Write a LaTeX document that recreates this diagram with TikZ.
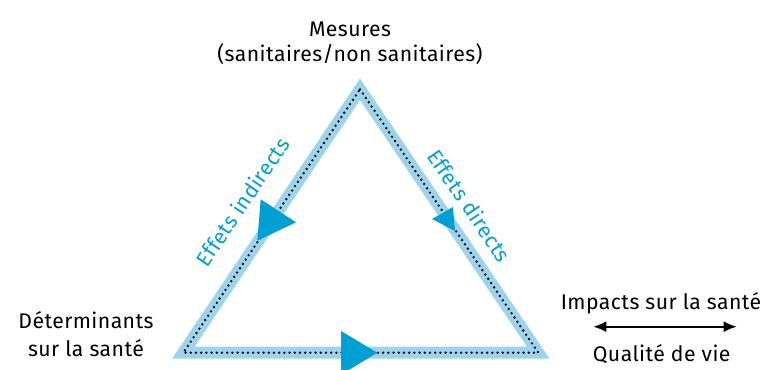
\documentclass[tikz,border=0pt]{standalone}
\usepackage{fontspec}
\setmainfont{Fira Sans}[LetterSpace=2]
\usetikzlibrary{arrows.meta}
\definecolor{band}{HTML}{9DD4EC}
\definecolor{arrowblue}{HTML}{009FD4}
\begin{document}
\begin{tikzpicture}[x=1bp,y=-1bp,
  lbl/.style={font=\fontsize{21.3}{25.7}\selectfont, inner sep=0pt, align=center},
  elbl/.style={font=\fontsize{21.3}{25}\selectfont, inner sep=0pt, text=arrowblue},
  bandline/.style={draw=band, line width=12bp, line join=miter},
  dotline/.style={draw=black, line width=2.6bp, line cap=round, dash pattern=on 0bp off 5.2bp},
  flowhead/.style={fill=arrowblue},
  dbl/.style={{Latex[length=13bp,width=11bp]}-{Latex[length=13bp,width=11bp]}, line width=1.8bp}]
\useasboundingbox (0,0) rectangle (771,369);
\coordinate (A) at (360,89.3);
\coordinate (L) at (183.3,352.7);
\coordinate (R) at (538.3,352.7);
\path[bandline] (A) -- (R) -- (L) -- cycle;
\path[dotline] (A) -- (R) -- (L) -- cycle;
% flow arrowheads
\fill[flowhead] (341,331) -- (377.3,352.7) -- (341,374.7) -- cycle;
\fill[flowhead] (260.7,199.3) -- (296,222.3) -- (257.3,240.7) -- cycle;
\fill[flowhead] (453,207) -- (455,231) -- (432,219) -- cycle;
% labels
\node[lbl, anchor=base] (mes) at (350,61.7) {Mesures\\(sanitaires/non sanitaires)};
\node[lbl, anchor=base, font=\fontsize{21.3}{28.4}\selectfont] (det) at (86,356.7) {Déterminants\\sur la santé};
\node[lbl, anchor=base] (imp) at (661,309) {Impacts sur la santé};
\node[lbl, anchor=base] (qual) at (661.7,361) {Qualité de vie};
\coordinate (ql) at (593.3,326.7);
\coordinate (qr) at (736.7,326.7);
\draw[dbl] (ql) -- (qr);
\node[elbl, rotate=56.1] (ind) at (242.5,201.7) {Effets indirects};
\node[elbl, rotate=-55.9] (dir) at (469.5,205.5) {Effets directs};
\end{tikzpicture}
\end{document}
